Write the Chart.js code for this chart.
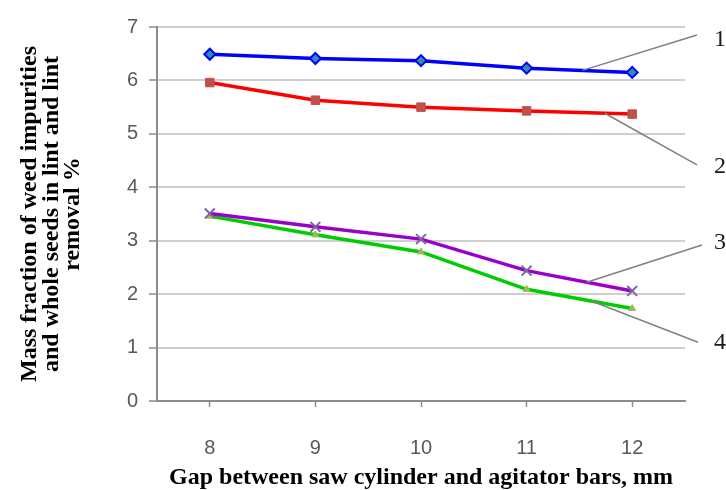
<!DOCTYPE html>
<html>
<head>
<meta charset="utf-8">
<script src="https://cdn.jsdelivr.net/npm/chart.js@4.4.1/dist/chart.umd.min.js"></script>
<style>
    html, body { margin: 0; padding: 0; background: #fff; }
    #wrap { width: 726px; height: 490px; position: relative; }
</style>
</head>
<body>
<div id="wrap"><canvas id="chart"></canvas></div>
<script>
// gap values, mm
const gaps = ['8', '9', '10', '11', '12'];

// curves 1..4
const curve1 = [6.49, 6.41, 6.37, 6.23, 6.15];
const curve2 = [5.96, 5.63, 5.50, 5.43, 5.37];
const curve3 = [3.51, 3.26, 3.03, 2.44, 2.06];
const curve4 = [3.46, 3.11, 2.79, 2.09, 1.73];

const curveNames = ['1', '2', '3', '4'];

const yMin = 0;
const yMax = 7;
const yStep = 1;

// leader lines: where they leave the curve (between 11 and 12) and where the number sits
const leaders = [
    { along: 0.53, dx: 12, endValue: 6.85, labelValue: 6.76 },
    { along: 0.74, dx: 12, endValue: 4.42, labelValue: 4.38 },
    { along: 0.57, dx: 17, endValue: 2.92, labelValue: 2.96 },
    { along: 0.62, dx: 13, endValue: 1.10, labelValue: 1.09 }
];

const axisGray = '#8c8c8c';

const leaderPlugin = {
    id: 'leaders',
    afterDatasetsDraw(chart) {
        const ctx = chart.ctx;
        const area = chart.chartArea;
        const x = chart.scales.x;
        const y = chart.scales.y;
        ctx.save();
        ctx.strokeStyle = '#808080';
        ctx.lineWidth = 1.5;
        ctx.fillStyle = '#1a1a1a';
        ctx.font = '24px "Liberation Serif"';
        ctx.textBaseline = 'middle';
        leaders.forEach((l, i) => {
            const data = chart.data.datasets[i].data;
            const v = data[3] + (data[4] - data[3]) * l.along;
            ctx.beginPath();
            ctx.moveTo(x.getPixelForValue(3 + l.along), y.getPixelForValue(v));
            ctx.lineTo(area.right + l.dx, y.getPixelForValue(l.endValue));
            ctx.stroke();
            ctx.fillText(curveNames[i], area.right + 29, y.getPixelForValue(l.labelValue));
        });
        ctx.restore();
    }
};

new Chart(document.getElementById('chart'), {
    type: 'line',
    data: {
        labels: gaps,
        datasets: [
            {
                label: curveNames[0],
                data: curve1,
                borderColor: '#0000ff',
                borderWidth: 3.5,
                pointStyle: 'rectRot',
                pointRadius: 5.5,
                pointBorderWidth: 2,
                pointBorderColor: '#0000ff',
                pointBackgroundColor: '#2f8fa8'
            },
            {
                label: curveNames[1],
                data: curve2,
                borderColor: '#ff0000',
                borderWidth: 3.5,
                pointStyle: 'rect',
                pointRadius: 6,
                pointBorderWidth: 1,
                pointBorderColor: '#c0504d',
                pointBackgroundColor: '#c0504d'
            },
            {
                label: curveNames[2],
                data: curve3,
                borderColor: '#9900cc',
                borderWidth: 3.5,
                pointStyle: 'crossRot',
                pointRadius: 7,
                pointBorderWidth: 2,
                pointBorderColor: '#8064a2',
                pointBackgroundColor: '#8064a2'
            },
            {
                label: curveNames[3],
                data: curve4,
                borderColor: '#00cc00',
                borderWidth: 3.5,
                pointStyle: 'triangle',
                pointRadius: 4,
                pointBorderWidth: 1,
                pointBorderColor: '#9bbb59',
                pointBackgroundColor: '#9bbb59'
            }
        ]
    },
    options: {
        responsive: true,
        maintainAspectRatio: false,
        animation: false,
        layout: { padding: { left: 19, right: 41, top: 27, bottom: 0 } },
        plugins: {
            legend: { display: false },
            tooltip: { enabled: false }
        },
        scales: {
            x: {
                offset: true,
                afterFit: (scale) => { scale.height = 89; },
                grid: {
                    drawOnChartArea: false,
                    drawTicks: true,
                    tickLength: 6,
                    tickColor: axisGray,
                    tickWidth: 1.5
                },
                border: { display: true, color: axisGray, width: 2 },
                ticks: {
                    padding: 29,
                    color: '#595959',
                    font: { family: '"Liberation Sans"', size: 20 }
                },
                title: {
                    display: true,
                    text: 'Gap between saw cylinder and agitator bars, mm',
                    color: '#000',
                    padding: { top: 0, bottom: 0 },
                    font: { family: '"Liberation Serif"', size: 24, weight: 'bold', lineHeight: 1.0 }
                }
            },
            y: {
                min: yMin,
                max: yMax,
                afterFit: (scale) => { scale.width = 138; },
                grid: {
                    color: '#cfcfcf',
                    lineWidth: 2,
                    tickLength: 8,
                    tickColor: axisGray,
                    tickWidth: 1.5
                },
                border: { display: true, color: axisGray, width: 2 },
                ticks: {
                    stepSize: yStep,
                    padding: 11,
                    color: '#595959',
                    font: { family: '"Liberation Sans"', size: 20 }
                },
                title: {
                    display: true,
                    text: ['Mass fraction of weed impurities', 'and whole seeds in lint and lint', 'removal %'],
                    color: '#000',
                    padding: { top: 0, bottom: 0 },
                    font: { family: '"Liberation Serif"', size: 24, weight: 'bold', lineHeight: 0.9 }
                }
            }
        }
    },
    plugins: [leaderPlugin]
});
</script>
</body>
</html>
